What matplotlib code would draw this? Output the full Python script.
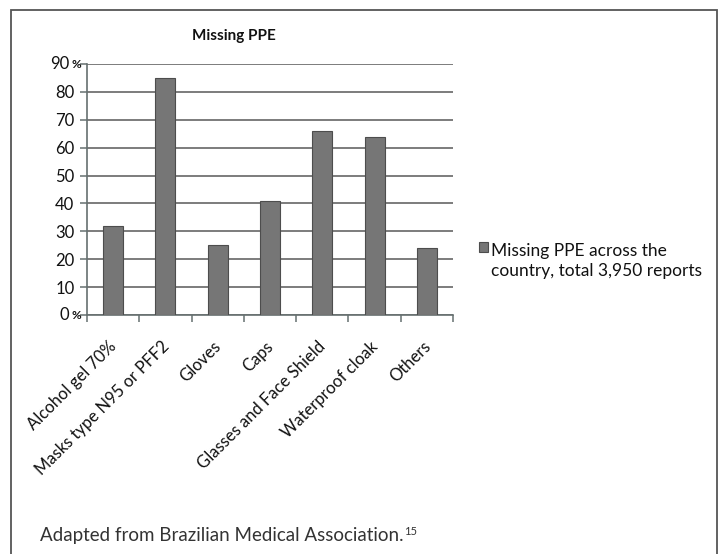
import matplotlib
matplotlib.use("Agg")
import matplotlib.pyplot as plt
import matplotlib.transforms as mtransforms
from matplotlib.patches import Rectangle
import numpy as np

categories = ["Alcohol gel 70%", "Masks type N95 or PFF2", "Gloves", "Caps",
              "Glasses and Face Shield", "Waterproof cloak", "Others"]
missing_pct = [32, 85, 25, 41, 66, 64, 24]
y_ticks = [0, 10, 20, 30, 40, 50, 60, 70, 80, 90]
series_label = "Missing PPE across the\ncountry, total 3,950 reports"
chart_title = "Missing PPE"
source_note = "Adapted from Brazilian Medical Association."
source_ref = "15"

plt.rcParams["font.family"] = ["Lato", "DejaVu Sans"]

W, H = 720, 554
fig = plt.figure(figsize=(W / 100, H / 100), dpi=100)
fig.patch.set_facecolor("white")

# outer box around the whole figure
fig.patches.append(Rectangle((11 / W, -0.05), 706 / W, 1.05 - 10 / H,
                             transform=fig.transFigure, fill=False,
                             edgecolor="#555555", linewidth=1.3))

ax = fig.add_axes([87 / W, 1 - 315 / H, 366 / W, 251 / H])
x = np.arange(len(categories))
bars = ax.bar(x, missing_pct, width=0.38, color="#767676",
              edgecolor="#4d4d4d", linewidth=0.8, label=series_label, zorder=3)

ax.set_xlim(-0.5, len(categories) - 0.5)
ax.set_ylim(0, 90)
ax.set_yticks(y_ticks)
ax.yaxis.grid(True, color="#666666", linewidth=1.2, zorder=0)
ax.set_axisbelow(True)

for side in ["top", "right"]:
    ax.spines[side].set_visible(False)
for side in ["left", "bottom"]:
    ax.spines[side].set_color("#667070")
    ax.spines[side].set_linewidth(1.2)

# y labels: 0 and 90 carry a small percent sign
ylabels = [str(v) for v in y_ticks]
ylabels[0] = ""
ylabels[-1] = ""
ax.set_yticklabels(ylabels, fontsize=12, color="#111111")
ax.tick_params(axis="y", length=5, width=1.1, color="#667070", pad=4)
for v in (y_ticks[0], y_ticks[-1]):
    ax.annotate(str(v), xy=(0, v), xycoords=("axes fraction", "data"),
                xytext=(-13, 0), textcoords="offset points",
                ha="right", va="center", fontsize=12, color="#111111")
    ax.annotate("%", xy=(0, v), xycoords=("axes fraction", "data"),
                xytext=(-4.5, -0.6), textcoords="offset points",
                ha="right", va="center", fontsize=8.5, color="#111111",
                fontweight="bold")

# category labels at the centres, tick marks at the boundaries
ax.set_xticks(x)
ax.set_xticklabels(categories, rotation=45, ha="right", va="center",
                   rotation_mode="anchor", fontsize=12, color="#111111")
ax.tick_params(axis="x", which="major", length=0, pad=21)
ax.set_xticks(np.arange(-0.5, len(categories), 1.0), minor=True)
ax.tick_params(axis="x", which="minor", length=5, width=1.1, color="#667070")
shift = mtransforms.ScaledTranslation(1 / 100, 0, fig.dpi_scale_trans)
for lbl in ax.get_xticklabels():
    lbl.set_transform(lbl.get_transform() + shift)

fig.text(234 / W, 1 - 36 / H, chart_title, ha="center", va="center",
         fontsize=11, fontweight="bold", color="#111111")

leg = ax.legend(loc="center left", bbox_to_anchor=(479 / W, 1 - 261 / H),
                bbox_transform=fig.transFigure, frameon=False, fontsize=12.5,
                handlelength=0.5, handleheight=0.5, handletextpad=0.2,
                borderpad=0, borderaxespad=0)
for t in leg.get_texts():
    t.set_linespacing(1.3)
    t.set_color("#111111")
# keep the swatch level with the first line of the label
sw = leg.legend_handles[0]
sw.set_y(sw.get_y() + 10)

note = fig.text(40 / W, 1 - 535 / H, source_note, ha="left", va="center",
                fontsize=13.5, color="#333333")
fig.canvas.draw()
bb = note.get_window_extent()
fig.text((bb.x1 + 0.5) / W, (bb.y1 - 5) / H, source_ref, ha="left",
         va="center", fontsize=8, color="#333333")

fig.savefig("out.png", dpi=100, facecolor="white")
